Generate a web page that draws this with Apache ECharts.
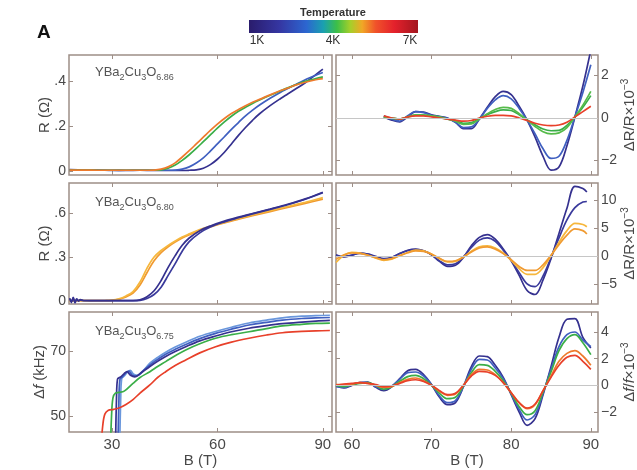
<!DOCTYPE html>
<html>
<head>
<meta charset="utf-8">
<script src="https://cdn.jsdelivr.net/npm/echarts@6/dist/echarts.min.js"></script>
<style>
html,body{margin:0;padding:0;background:#fff}
#chart{width:637px;height:470px}
</style>
</head>
<body>
<div id="chart"></div>
<script>
// ---------- YBa2Cu3O6.86 : resistance R (ohm) vs field B (T) ----------
const fieldR86 = [18,22,26,30,34,38,42,44,46,48,50,52,54,56,58,60,62,64,66,68,70,72,75,78,80,82,85,88,90];
const r86Orange = [0.004,0.004,0.003,0.003,0.003,0.003,0.004,0.008,0.018,0.036,0.062,0.09,0.12,0.15,0.18,0.208,0.233,0.255,0.273,0.29,0.305,0.318,0.338,0.357,0.368,0.38,0.394,0.405,0.41];
const r86Green  = [0.004,0.004,0.003,0.003,0.003,0.003,0.003,0.005,0.012,0.026,0.047,0.072,0.1,0.13,0.16,0.19,0.218,0.243,0.265,0.283,0.3,0.315,0.336,0.356,0.369,0.381,0.398,0.41,0.418];
const r86Blue   = [0.005,0.003,0.004,0.002,0.003,0.003,0.003,0.003,0.003,0.004,0.008,0.018,0.035,0.058,0.088,0.12,0.152,0.185,0.215,0.245,0.27,0.293,0.323,0.35,0.366,0.382,0.405,0.425,0.437];
const r86Indigo = [0.006,0.004,0.003,0.003,0.002,0.003,0.002,0.002,0.002,0.002,0.002,0.003,0.005,0.012,0.028,0.052,0.083,0.12,0.158,0.193,0.225,0.254,0.29,0.322,0.342,0.362,0.392,0.428,0.452];

// ---------- YBa2Cu3O6.86 : oscillatory part dR/R (x1e-3) ----------
const fieldDR86 = [64,65,66,67,68,69,70,71,72,73,74,75,76,77,78,79,80,81,82,83,84,85,86,87,88,89,90];
const dr86Indigo = [0.05,-0.1,-0.18,0.05,0.3,0.28,0.15,0.08,0.0,-0.2,-0.5,-0.5,-0.05,0.5,1.0,1.25,1.1,0.55,-0.1,-0.9,-1.8,-2.45,-2.3,-1.3,0.05,1.5,3.2];
const dr86Blue   = [0.1,-0.05,-0.15,0.1,0.3,0.25,0.12,0.05,-0.02,-0.2,-0.45,-0.42,-0.05,0.45,0.85,1.05,0.9,0.45,-0.1,-0.75,-1.45,-1.9,-1.8,-1.05,0.05,1.2,2.5];
const dr86Green  = [0.05,0.0,-0.05,0.05,0.15,0.15,0.1,0.05,-0.05,-0.15,-0.3,-0.28,-0.05,0.2,0.4,0.5,0.45,0.2,-0.1,-0.4,-0.65,-0.75,-0.7,-0.45,0.05,0.6,1.25];
const dr86Green2 = [0.0,-0.02,-0.05,0.05,0.12,0.12,0.08,0.03,-0.05,-0.12,-0.25,-0.22,-0.03,0.15,0.3,0.38,0.35,0.15,-0.08,-0.32,-0.52,-0.6,-0.58,-0.35,0.05,0.5,1.05];
const dr86Red    = [0.1,0.0,-0.05,0.05,0.1,0.1,0.05,0.0,-0.05,-0.1,-0.15,-0.12,0.0,0.08,0.12,0.12,0.1,0.0,-0.12,-0.25,-0.33,-0.36,-0.33,-0.2,0.05,0.3,0.55];

// ---------- YBa2Cu3O6.80 : resistance R (ohm) ----------
const fieldR80 = [18,18.5,19,19.5,20,20.5,21,22,24,28,30,32,34,36,38,40,42,44,46,48,50,52,55,58,62,66,70,75,80,85,90];
const r80Yellow  = [0.003,0.003,0.003,0.003,0.003,0.003,0.003,0.003,0.003,0.004,0.006,0.015,0.035,0.065,0.13,0.225,0.3,0.345,0.38,0.41,0.437,0.458,0.487,0.51,0.537,0.563,0.587,0.617,0.645,0.674,0.705];
const r80Orange  = [0.003,0.003,0.003,0.003,0.003,0.003,0.003,0.003,0.003,0.003,0.005,0.012,0.028,0.055,0.11,0.195,0.275,0.33,0.37,0.402,0.43,0.452,0.482,0.506,0.533,0.558,0.582,0.61,0.638,0.666,0.695];
const r80Indigo  = [0.02,-0.01,0.025,-0.008,0.015,0.0,0.01,0.004,0.003,0.003,0.003,0.003,0.003,0.003,0.008,0.03,0.07,0.14,0.23,0.31,0.38,0.43,0.48,0.512,0.545,0.572,0.597,0.628,0.66,0.697,0.742];
const r80Indigo2 = [0.012,0.0,0.018,-0.012,0.01,0.004,0.006,0.003,0.003,0.003,0.003,0.003,0.003,0.003,0.005,0.018,0.045,0.095,0.175,0.255,0.34,0.405,0.465,0.505,0.54,0.568,0.594,0.625,0.657,0.694,0.738];

// ---------- YBa2Cu3O6.80 : dR/R (x1e-3) ----------
const fieldDR80 = [58,59,60,61,62,63,64,65,66,67,68,69,70,71,72,73,74,75,76,77,78,79,80,81,82,83,84,85,86,87,88,89,89.5];
const dr80Indigo = [0.2,-0.2,0.1,0.5,0.3,-0.2,-0.6,-0.3,0.4,1.0,1.2,0.9,0.2,-1.0,-1.9,-1.7,-0.3,1.8,3.3,3.8,3.0,1.2,-0.9,-3.5,-6.2,-6.9,-4.3,-0.5,4.0,8.5,12.4,12.0,11.4];
const dr80Blue   = [0.0,-0.1,0.15,0.45,0.3,-0.1,-0.5,-0.3,0.4,0.9,1.1,0.9,0.2,-0.9,-1.6,-1.4,-0.2,1.5,2.8,3.2,2.6,1.0,-0.8,-3.0,-5.0,-5.5,-3.6,-0.3,3.2,6.4,8.6,9.6,9.7];
const dr80Yellow = [-1.2,0.1,0.6,0.5,0.1,-0.4,-0.8,-0.6,0.0,0.6,1.0,0.9,0.3,-0.5,-1.1,-1.0,-0.2,0.8,1.6,1.8,1.4,0.5,-0.8,-2.3,-3.3,-3.3,-2.1,0.0,2.4,4.5,5.8,5.6,5.2];
const dr80Orange = [-0.6,0.2,0.5,0.45,0.1,-0.35,-0.7,-0.5,0.05,0.55,0.9,0.8,0.3,-0.45,-1.0,-0.9,-0.2,0.7,1.4,1.6,1.2,0.4,-0.7,-1.9,-2.6,-2.6,-1.6,0.1,2.0,3.7,4.8,4.5,3.9];

// ---------- YBa2Cu3O6.75 : frequency shift (kHz) ----------
const fieldDfRed   = [26.9,27.4,28,29,30.5,32,34,36,38,40.8,43,45.3,48,51,55,59.5,64,69,74,78.5,84,88,92];
const dfRed        = [40,47,50.5,51.7,52,52.4,53.5,55,57,59.5,61.8,63.6,65.5,67.2,69.4,71.3,72.7,73.9,74.9,75.6,76,76.2,76.3];
const fieldDfGreen = [29.6,29.9,30.3,31,32,33.5,36,38,40.8,43,45.3,48,51,55,59.5,64,69,74,78.5,84,88,92];
const dfGreen      = [40,50,55.5,57,57.2,57.6,60,61.8,63.6,65.2,66.7,68.5,70.3,72.2,73.9,75,75.9,76.9,77.7,78.2,78.5,78.6];
const fieldDfNavy  = [31,31.3,31.6,32.5,33.5,34.3,35.3,36.5,38,40.8,43,45.3,48,51,55,59.5,64,69,74,78.5,84,88,92];
const dfNavy       = [40,55,61.3,62,63,63.6,62.5,62,63,65.2,66.8,68.3,69.8,71.3,73.1,74.6,75.9,77,77.8,78.4,78.9,79.2,79.4];
const fieldDfBlue  = [31.7,32,32.3,33,34,34.8,35.8,37,38.5,40.8,43,45.3,48,51,55,59.5,64,69,74,78.5,84,88,92];
const dfBlue       = [40,55,61.3,62,63.3,63.8,62.5,62.2,63.5,65.7,67.4,69,70.5,72,73.8,75.4,76.7,78,78.8,79.5,80,80.2,80.3];
const fieldDfSky   = [32.2,32.5,32.8,33.5,34.5,35.2,36.2,37.5,39,40.8,43,45.3,48,51,55,59.5,64,69,74,78.5,84,88,92];
const dfSky        = [40,55,61.5,62.3,63.5,64,62.8,62.5,64,66.2,68,69.6,71.2,72.7,74.5,76,77.3,78.6,79.5,80.2,80.7,80.9,81];

// ---------- YBa2Cu3O6.75 : df/f (x1e-3) ----------
const fieldDF75 = [58,59,60,61,62,63,64,65,66,67,68,69,70,71,72,73,74,75,76,77,78,79,80,81,82,83,84,85,86,87,88,89,90];
const df75Navy   = [-0.05,-0.2,0.0,0.2,0.25,-0.15,-0.4,-0.1,0.5,1.1,1.2,0.8,0.05,-0.9,-1.45,-1.3,-0.1,1.4,2.2,2.15,1.5,0.6,-0.7,-2.0,-3.0,-2.5,-0.7,1.4,3.6,4.95,5.0,3.6,2.8];
const df75Blue   = [-0.1,-0.15,0.05,0.2,0.2,-0.1,-0.3,-0.05,0.45,0.95,1.0,0.7,0.05,-0.8,-1.3,-1.15,-0.1,1.2,1.95,1.9,1.3,0.5,-0.65,-1.8,-2.6,-2.2,-0.6,1.2,2.9,3.8,4.0,3.4,2.9];
const df75Green  = [0.0,-0.1,0.05,0.15,0.2,0.0,-0.3,-0.1,0.3,0.65,0.75,0.5,0.0,-0.6,-1.0,-0.9,-0.05,0.95,1.55,1.5,1.05,0.35,-0.6,-1.6,-2.2,-1.9,-0.5,1.0,2.6,3.5,3.8,3.2,2.3];
const df75Orange = [0.05,0.05,0.1,0.2,0.15,0.0,-0.15,-0.1,0.2,0.45,0.55,0.35,0.0,-0.45,-0.75,-0.65,0.0,0.8,1.2,1.15,0.8,0.2,-0.55,-1.3,-1.75,-1.45,-0.4,0.7,1.8,2.4,2.6,2.2,1.5];
const df75Red    = [0.0,0.1,0.15,0.2,0.15,0.05,-0.1,-0.05,0.15,0.35,0.42,0.3,0.0,-0.4,-0.7,-0.6,0.0,0.7,1.05,1.0,0.75,0.2,-0.55,-1.3,-1.7,-1.4,-0.4,0.6,1.5,2.1,2.25,1.8,1.2];

// ---------- tick values ----------
const ticksFieldLeft  = [30, 60, 90];
const ticksFieldRight = [60, 70, 80, 90];
const ticksR86  = [0, 0.2, 0.4];
const ticksR80  = [0, 0.3, 0.6];
const ticksDf   = [50, 70];
const ticksDR86 = [-2, 0, 2];
const ticksDR80 = [-5, 0, 5, 10];
const ticksDF75 = [-2, 0, 2, 4];

// ---------- styling ----------
const FONT = '"Liberation Sans", Arial, sans-serif';
const FRAME = '#9d8e87';
const TXT = '#484848';
const C = {
  indigo: '#35318f', blue: '#3f5fc0', sky: '#6a97dc', green: '#3aae48',
  orange: '#ee7a2c', red: '#e8402a', yellow: '#f6b73c', amber: '#f09a30'
};

const zip = (xs, ys) => xs.map((x, i) => [x, ys[i]]);
const fracLabel = v => (v === 0 ? '0' : String(v).replace(/^0/, ''));
const signedLabel = v => String(v).replace('-', '\u2212');

const panels = [
  { box: {left: 69, top: 55, width: 263, height: 120}, x: [17.8, 92.6], y: [-0.018, 0.515],
    xt: ticksFieldLeft, yt: ticksR86, fmt: fracLabel, side: 'left', bottom: false,
    yName: 'R (\u03A9)', nameGap: 14 },
  { box: {left: 336, top: 55, width: 262, height: 120}, x: [58, 90.9], y: [-2.68, 2.96],
    xt: ticksFieldRight, yt: ticksDR86, fmt: signedLabel, side: 'right', bottom: false,
    yName: '\u0394R/R\u00D710{p|\u22123}', nameGap: 22, zero: true },
  { box: {left: 69, top: 183, width: 263, height: 121}, x: [17.8, 92.6], y: [-0.02, 0.805],
    xt: ticksFieldLeft, yt: ticksR80, fmt: fracLabel, side: 'left', bottom: false,
    yName: 'R (\u03A9)', nameGap: 14 },
  { box: {left: 336, top: 183, width: 262, height: 121}, x: [58, 90.9], y: [-8.6, 13],
    xt: ticksFieldRight, yt: ticksDR80, fmt: signedLabel, side: 'right', bottom: false,
    yName: '\u0394R/R\u00D710{p|\u22123}', nameGap: 22, zero: true },
  { box: {left: 69, top: 312, width: 263, height: 120}, x: [17.8, 92.6], y: [45, 82],
    xt: ticksFieldLeft, yt: ticksDf, fmt: v => String(v), side: 'left', bottom: true,
    yName: '\u0394{i|f} (kHz)', nameGap: 19 },
  { box: {left: 336, top: 312, width: 262, height: 120}, x: [58, 90.9], y: [-3.5, 5.5],
    xt: ticksFieldRight, yt: ticksDF75, fmt: signedLabel, side: 'right', bottom: true,
    yName: '\u0394{i|f}/{i|f}\u00D710{p|\u22123}', nameGap: 22, zero: true }
];

const curves = [
  // panel 0
  [0, zip(fieldR86, r86Indigo), C.indigo], [0, zip(fieldR86, r86Blue), C.blue],
  [0, zip(fieldR86, r86Green), C.green], [0, zip(fieldR86, r86Orange), C.orange],
  // panel 1
  [1, zip(fieldDR86, dr86Indigo), C.indigo], [1, zip(fieldDR86, dr86Blue), C.blue],
  [1, zip(fieldDR86, dr86Green2), C.green], [1, zip(fieldDR86, dr86Green), '#56bb4a'],
  [1, zip(fieldDR86, dr86Red), C.red],
  // panel 2
  [2, zip(fieldR80, r80Orange), C.amber], [2, zip(fieldR80, r80Yellow), C.yellow],
  [2, zip(fieldR80, r80Indigo2), '#3a3a9c'], [2, zip(fieldR80, r80Indigo), C.indigo],
  // panel 3
  [3, zip(fieldDR80, dr80Indigo), C.indigo], [3, zip(fieldDR80, dr80Blue), '#3a3a9c'],
  [3, zip(fieldDR80, dr80Yellow), C.yellow], [3, zip(fieldDR80, dr80Orange), C.amber],
  // panel 4
  [4, zip(fieldDfSky, dfSky), C.sky], [4, zip(fieldDfBlue, dfBlue), C.blue],
  [4, zip(fieldDfNavy, dfNavy), C.indigo], [4, zip(fieldDfGreen, dfGreen), C.green],
  [4, zip(fieldDfRed, dfRed), C.red],
  // panel 5
  [5, zip(fieldDF75, df75Navy), C.indigo], [5, zip(fieldDF75, df75Blue), C.blue],
  [5, zip(fieldDF75, df75Green), C.green], [5, zip(fieldDF75, df75Orange), C.orange],
  [5, zip(fieldDF75, df75Red), C.red]
];

const nameRich = {
  p: { fontSize: 10, fontFamily: FONT, color: TXT, verticalAlign: 'top', lineHeight: 20 },
  i: { fontSize: 15, fontFamily: FONT, color: TXT, fontStyle: 'italic', lineHeight: 20 }
};

const grid = [], xAxis = [], yAxis = [], series = [];
panels.forEach((p, k) => {
  grid.push(Object.assign({ show: true, borderColor: FRAME, borderWidth: 1.5, backgroundColor: '#fff',
    containLabel: false, outerBoundsMode: 'none' }, p.box));
  const tick = vals => ({ show: true, inside: true, length: 4, customValues: vals,
    lineStyle: { color: FRAME, width: 1 } });
  const hiddenLine = { show: false, onZero: false };
  // bottom / top field axes
  xAxis.push({
    gridIndex: k, type: 'value', min: p.x[0], max: p.x[1], position: 'bottom',
    axisLine: hiddenLine, splitLine: { show: false }, axisTick: tick(p.xt),
    axisLabel: { show: p.bottom, customValues: p.xt, color: TXT, fontSize: 15, fontFamily: FONT, margin: 5 },
    name: p.bottom ? 'B (T)' : '', nameLocation: 'middle', nameGap: 21, nameMoveOverlap: false,
    nameTextStyle: { color: TXT, fontSize: 15, fontFamily: FONT }
  });
  xAxis.push({
    gridIndex: k, type: 'value', min: p.x[0], max: p.x[1], position: 'top',
    axisLine: hiddenLine, splitLine: { show: false }, axisTick: tick(p.xt),
    axisLabel: { show: false }
  });
  // value axes
  yAxis.push({
    gridIndex: k, type: 'value', min: p.y[0], max: p.y[1], position: p.side,
    axisLine: hiddenLine, splitLine: { show: false }, axisTick: tick(p.yt),
    axisLabel: { show: true, customValues: p.yt, formatter: p.fmt, color: TXT, fontSize: 14, fontFamily: FONT, margin: 3 },
    name: p.yName, nameLocation: 'middle', nameRotate: 90, nameGap: p.nameGap, nameMoveOverlap: false,
    nameTextStyle: { color: TXT, fontSize: 15, fontFamily: FONT, lineHeight: 20, rich: nameRich }
  });
  yAxis.push({
    gridIndex: k, type: 'value', min: p.y[0], max: p.y[1], position: p.side === 'left' ? 'right' : 'left',
    axisLine: hiddenLine, splitLine: { show: false }, axisTick: tick(p.yt),
    axisLabel: { show: false }
  });
  if (p.zero) {
    series.push({
      type: 'line', xAxisIndex: 2 * k, yAxisIndex: 2 * k, data: [], z: 1, silent: true,
      markLine: { silent: true, symbol: 'none', label: { show: false }, animation: false,
        lineStyle: { color: '#c6c6c6', width: 1, type: 'solid' }, data: [{ yAxis: 0 }] }
    });
  }
});

curves.forEach(([k, data, color]) => {
  series.push({
    type: 'line', xAxisIndex: 2 * k, yAxisIndex: 2 * k, data, z: 3,
    smooth: 0.35, showSymbol: false, clip: true, silent: true,
    lineStyle: { color, width: 1.7 }
  });
});

// formula labels inside the left panels
const formula = (top, sub) => ({
  type: 'text', left: 95, top, silent: true,
  style: {
    text: 'YBa{s|2}Cu{s|3}O{s|' + sub + '}',
    fill: '#555', fontSize: 13, fontFamily: FONT, lineHeight: 20,
    rich: { s: { fontSize: 9, fontFamily: FONT, fill: '#555', verticalAlign: 'bottom', lineHeight: 20 } }
  }
});

const graphic = [
  { type: 'text', left: 37, top: 23, silent: true,
    style: { text: 'A', fill: '#111', fontSize: 19, fontWeight: 'bold', fontFamily: FONT } },
  { type: 'rect', shape: { x: 249, y: 20, width: 169, height: 13 }, silent: true,
    style: { fill: new echarts.graphic.LinearGradient(0, 0, 1, 0, [
      { offset: 0, color: '#2a1c6c' }, { offset: 0.18, color: '#3536a2' },
      { offset: 0.34, color: '#2c66d0' }, { offset: 0.44, color: '#1aa0b0' },
      { offset: 0.52, color: '#3cbf48' }, { offset: 0.6, color: '#a6cf2a' },
      { offset: 0.67, color: '#f1a726' }, { offset: 0.75, color: '#f0522a' },
      { offset: 0.86, color: '#e4212c' }, { offset: 1, color: '#a3161f' }
    ]) } },
  { type: 'text', x: 333, y: 13, silent: true,
    style: { text: 'Temperature', fill: '#333', fontSize: 11, fontWeight: 'bold', fontFamily: FONT,
      align: 'center', verticalAlign: 'middle' } },
  { type: 'text', x: 257, y: 41, silent: true,
    style: { text: '1K', fill: '#333', fontSize: 12, fontFamily: FONT, align: 'center', verticalAlign: 'middle' } },
  { type: 'text', x: 333, y: 41, silent: true,
    style: { text: '4K', fill: '#333', fontSize: 12, fontFamily: FONT, align: 'center', verticalAlign: 'middle' } },
  { type: 'text', x: 410, y: 41, silent: true,
    style: { text: '7K', fill: '#333', fontSize: 12, fontFamily: FONT, align: 'center', verticalAlign: 'middle' } },
  formula(62, '6.86'),
  formula(192, '6.80'),
  formula(321, '6.75')
];

const chart = echarts.init(document.getElementById('chart'), null, { renderer: 'canvas' });
chart.setOption({
  animation: false,
  backgroundColor: '#fff',
  textStyle: { fontFamily: FONT },
  grid, xAxis, yAxis, series, graphic
});
</script>
</body>
</html>
